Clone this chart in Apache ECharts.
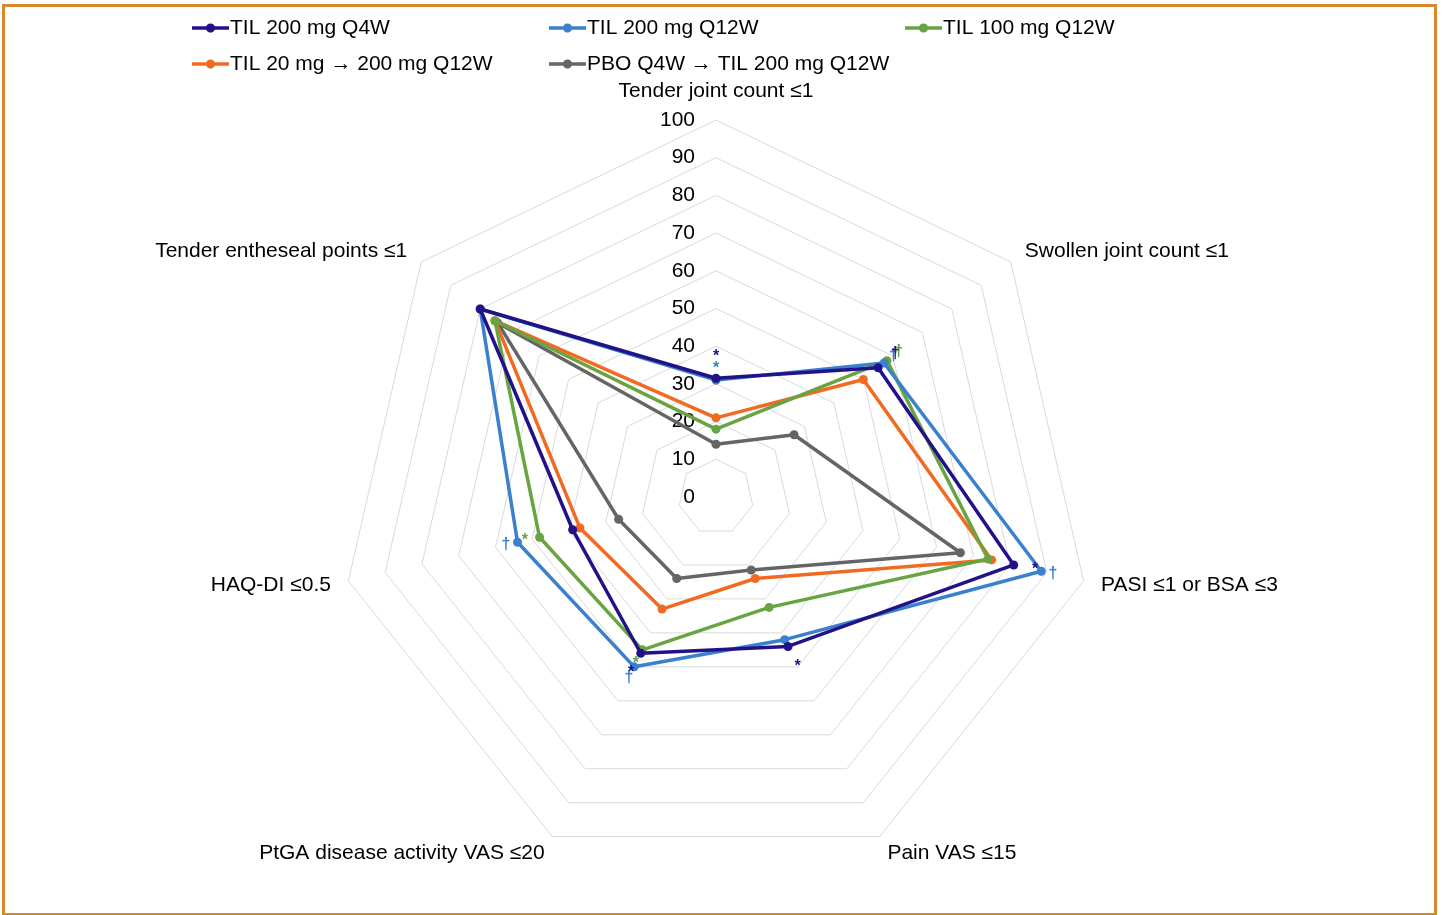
<!DOCTYPE html>
<html>
<head>
<meta charset="utf-8">
<script src="https://cdn.jsdelivr.net/npm/echarts@6/dist/echarts.min.js"></script>
<style>
  html, body { margin: 0; padding: 0; background: #fff; }
  #main { width: 1445px; height: 915px; }
  #frame { position: absolute; left: 2px; top: 4px; width: 1429px; height: 906px; border: 3px solid #d8892a; pointer-events: none; }
</style>
</head>
<body>
<div id="main"></div>
<div id="frame"></div>
<script>
// indicators in ECharts order (top, then counter-clockwise)
const indicators = ['Tender joint count \u22641', 'Tender entheseal points \u22641', 'HAQ-DI \u22640.5',
  'PtGA disease activity VAS \u226420', 'Pain VAS \u226415', 'PASI \u22641 or BSA \u22643', 'Swollen joint count \u22641'];

const names = ['TIL 200 mg Q4W', 'TIL 200 mg Q12W', 'TIL 100 mg Q12W',
  'TIL 20 mg \u2192 200 mg Q12W', 'PBO Q4W \u2192 TIL 200 mg Q12W'];

const til200q4w  = [31.5, 80, 39, 46, 44, 81, 55];
const til200q12w = [31, 80, 54, 50, 42, 88.5, 57];
const til100q12w = [18, 75, 48, 45, 32.5, 74, 58];
const til20to200 = [21, 75, 37, 33, 24, 75, 50];
const pboTo200   = [14, 74, 26.5, 24, 21.5, 66.5, 26.5];

// significance marks per vertex
const marks200q4w  = ['*', '', '', '*', '*', '*', '\u2020'];
const marks200q12w = ['*', '', '\u2020', '\u2020', '*', '\u2020', '\u2020'];
const marks100q12w = ['', '', '*', '*', '', '', '\u2020'];
const marks20to200 = ['', '', '', '', '', '', '*'];
const marksPbo     = ['', '', '', '', '', '', ''];

const colors = ['#22128a', '#3a80cc', '#68a441', '#f26a22', '#656565'];
const values = [til200q4w, til200q12w, til100q12w, til20to200, pboTo200];
const marks = [marks200q4w, marks200q12w, marks100q12w, marks20to200, marksPbo];
const markGap = [22, 12, 15, 15, 15];

const cx = 716, cy = 497;
const font = 'Liberation Sans, Arial, sans-serif';
const legendIcon = 'path://M0,8.5H12.3A4,4 0 0 1 19.7,8.5H32V11.5H19.7A4,4 0 0 1 12.3,11.5H0Z';

function makeLegend(left, data) {
  return {
    orient: 'vertical', left: left, top: 12, data: data,
    icon: legendIcon, itemWidth: 37, itemHeight: 10, itemGap: 14,
    textStyle: { fontFamily: font, fontSize: 21, color: '#000', lineHeight: 22, padding: [0, 0, 0, -4] }
  };
}

var myChart = echarts.init(document.getElementById('main'));
var option = {
  animation: false,
  color: colors,
  legend: [
    makeLegend(187, [names[0], names[3]]),
    makeLegend(544, [names[1], names[4]]),
    makeLegend(900, [names[2]])
  ],
  radar: {
    center: [cx, cy],
    radius: 377,
    shape: 'polygon',
    splitNumber: 10,
    startAngle: 90,
    indicator: indicators.map((n, i) => i === 0
      ? { name: n, min: 0, max: 100, axisLabel: { show: true } }
      : { name: n, min: 0, max: 100 }),
    axisName: { color: '#000', fontFamily: font, fontSize: 21 },
    nameGap: 18,
    axisLine: { show: false },
    axisTick: { show: false },
    axisLabel: { show: false, color: '#000', fontFamily: font, fontSize: 21, margin: 21 },
    splitLine: { lineStyle: { color: '#d9d9d9', width: 1 } },
    splitArea: { show: false }
  },
  series: values.map((v, i) => ({
    name: names[i],
    type: 'radar',
    symbol: 'circle',
    symbolSize: 9,
    lineStyle: { width: 3.5, color: colors[i] },
    itemStyle: { color: colors[i] },
    z: 10 - i,
    label: {
      show: true,
      color: colors[i],
      fontFamily: font,
      fontSize: 16,
      fontWeight: 'bold',
      formatter: p => marks[i][p.dimensionIndex] || ''
    },
    labelLayout: function (p) {
      const x = p.rect.x + p.rect.width / 2, y = p.rect.y + p.rect.height / 2;
      const dx = x - cx, dy = y - cy, d = Math.hypot(dx, dy) || 1;
      const g = markGap[i];
      return { x: x + dx / d * g, y: y + dy / d * g, align: 'center', verticalAlign: 'middle' };
    },
    data: [{ value: v, name: names[i] }]
  }))
};
myChart.setOption(option);
</script>
</body>
</html>
